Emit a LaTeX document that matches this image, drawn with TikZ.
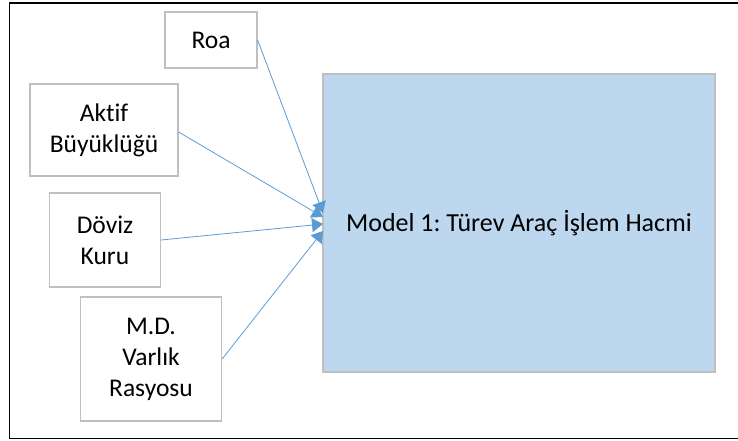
\documentclass[tikz,border=0pt]{standalone}
\usepackage{fontspec}
\setmainfont{Carlito}[RawFeature=-liga]
\usetikzlibrary{arrows.meta}
\definecolor{linkblue}{RGB}{91,155,213}
\definecolor{boxgray}{RGB}{191,191,191}
\definecolor{fillblue}{RGB}{189,215,238}
\frenchspacing
\tikzset{
  varbox/.style={draw=boxgray, line width=1.2pt, fill=white, align=center, inner sep=0pt,
    font=\fontsize{25.5}{31}\selectfont},
  link/.style={draw=linkblue, line width=0.8pt, -{Triangle[length=11pt,width=14pt]}}
}
\begin{document}
\begin{tikzpicture}[x=1pt,y=-1pt]
\useasboundingbox (0,0) rectangle (738,441);
\draw[line width=1.6pt, black] (738,3) -- (9.5,3) -- (9.5,438.5) -- (738,438.5);
\node[varbox, minimum width=92pt, minimum height=56pt] (roa) at (211,40) {Roa};
\node[varbox, minimum width=148pt, minimum height=92pt] (aktif) at (104,130) {Aktif\\Büyüklüğü};
\node[varbox, minimum width=111pt, minimum height=94pt] (doviz) at (105,240) {Döviz\\Kuru};
\node[varbox, minimum width=141pt, minimum height=124pt] (md) at (151,359) {M.D.\\Varlık\\Rasyosu};
\node[draw=boxgray, line width=1.2pt, fill=fillblue, minimum width=392pt, minimum height=298pt,
  inner sep=0pt, font=\fontsize{26}{31}\selectfont] (model) at (519,223) {Model 1: Türev Araç İşlem Hacmi};
\coordinate (t1) at (323,213);
\coordinate (t2) at (323,217);
\coordinate (t3) at (323,224);
\coordinate (t4) at (323,231);
\draw[link] (roa.east) -- (t1);
\draw[link] (aktif.east) ++(0,2) -- (t2);
\draw[link] (doviz.east) -- (t3);
\draw[link] (md.east) -- (t4);
\end{tikzpicture}
\end{document}
